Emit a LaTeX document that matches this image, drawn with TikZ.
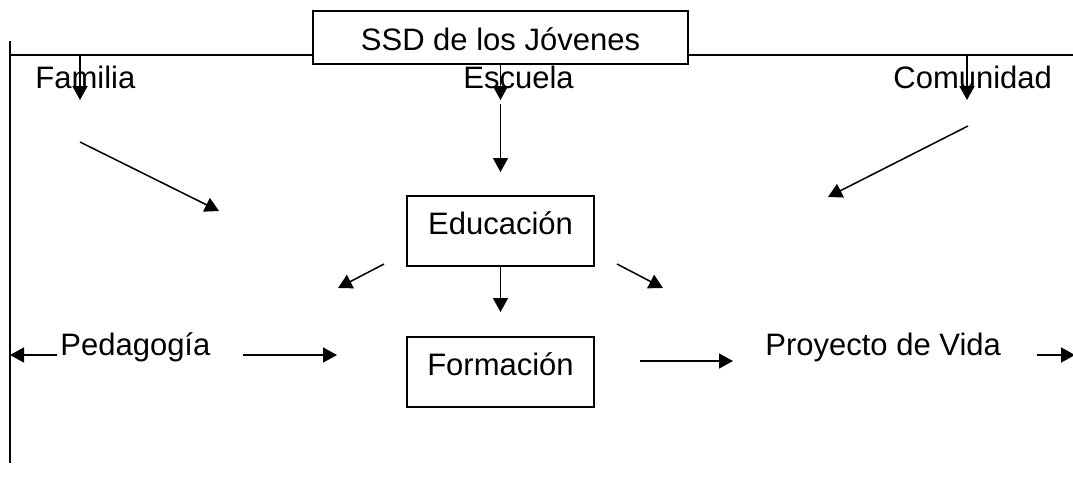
\documentclass[tikz,border=0pt]{standalone}
\usepackage{fontspec}
\setmainfont{Liberation Sans}
\usetikzlibrary{arrows.meta,positioning}
\tikzset{
  caja/.style={draw,line width=0.8pt,fill=white,inner sep=0pt,text height=19pt,text depth=16pt,minimum width=93.5pt},
  flecha/.style={-{Triangle[length=7pt,width=7.5pt]},line width=0.75pt},
  linea/.style={line width=0.8pt},
  etiqueta/.style={inner sep=0pt,anchor=base west}
}
\begin{document}
\begin{tikzpicture}[x=0.5pt,y=-0.5pt,font=\fontsize{15.5}{18}\selectfont]
      \useasboundingbox (0,0) rectangle (1073,493);
      \coordinate (arribaI) at (10,55);
      \coordinate (arribaD) at (1073,55);
      \coordinate (bordeS) at (10,41);
      \coordinate (bordeI) at (10,463);
      \draw[linea] (arribaI) -- (arribaD);
      \draw[linea] (bordeS) -- (bordeI);
      \node[caja,anchor=base,minimum width=187.5pt,text height=19.5pt,text depth=7pt] (ssd) at (500.5,50) {SSD de los Jóvenes};
      \node[etiqueta] (fam) at (35,88) {Familia};
      \node[etiqueta] (esc) at (463,88) {Escuela};
      \node[etiqueta] (com) at (893,88) {Comunidad};
      \node[caja,anchor=base] (edu) at (500.5,234) {Educación};
      \node[caja,anchor=base] (form) at (500.5,375) {Formación};
      \node[etiqueta] (ped) at (60,355) {Pedagogía};
      \node[etiqueta] (pro) at (765,355) {Proyecto de Vida};
      \coordinate (famA) at (80,55);
      \coordinate (famB) at (80,100);
      \coordinate (escB) at (500.5,100);
      \coordinate (escC) at (500.5,104);
      \coordinate (escD) at (500.5,172);
      \coordinate (comA) at (967,55);
      \coordinate (comB) at (967,100);
      \coordinate (famC) at (80,142);
      \coordinate (famD) at (219,211);
      \coordinate (comC) at (968,126);
      \coordinate (comD) at (828,197);
      \coordinate (eduI) at (384,264);
      \coordinate (eduIB) at (338,288);
      \coordinate (eduD) at (617,264);
      \coordinate (eduDB) at (663,288);
      \coordinate (eduB) at (500.5,312);
      \coordinate (pedI) at (57,355);
      \coordinate (pedIB) at (10,355);
      \coordinate (pedD) at (243,355);
      \coordinate (pedDB) at (337,355);
      \coordinate (formD) at (640,361);
      \coordinate (formDB) at (733,361);
      \coordinate (proD) at (1037,355);
      \coordinate (proDB) at (1075,355);
      \draw[flecha] (famA) -- (famB);
      \draw[flecha] (ssd.south) -- (escB);
      \draw[flecha] (escC) -- (escD);
      \draw[flecha] (comA) -- (comB);
      \draw[flecha] (famC) -- (famD);
      \draw[flecha] (comC) -- (comD);
      \draw[flecha] (eduI) -- (eduIB);
      \draw[flecha] (eduD) -- (eduDB);
      \draw[flecha] (edu.south) -- (eduB);
      \draw[flecha] (pedI) -- (pedIB);
      \draw[flecha] (pedD) -- (pedDB);
      \draw[flecha] (formD) -- (formDB);
      \draw[flecha] (proD) -- (proDB);
\end{tikzpicture}
\end{document}
